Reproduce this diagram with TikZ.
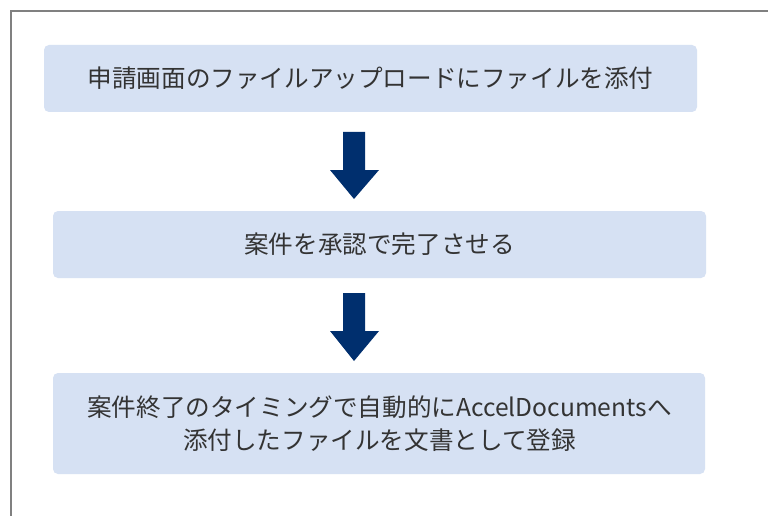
\documentclass[tikz,border=0pt]{standalone}
\usepackage{fontspec}
\newfontfamily\jp{Noto Sans CJK JP}
\definecolor{boxfill}{HTML}{D6E1F3}
\definecolor{arrowblue}{HTML}{002F6E}
\definecolor{txt}{HTML}{333333}
\definecolor{frame}{HTML}{808080}
\tikzset{
  stepbox/.style={fill=boxfill, rounded corners=5pt, draw=none},
  steptext/.style={font=\jp\fontsize{24.6}{33}\selectfont, text=txt, align=center},
  downarrow/.style={fill=arrowblue, draw=none}
}
\begin{document}
\begin{tikzpicture}[x=1pt,y=-1pt]
\useasboundingbox (0,0) rectangle (768,516);
\fill[white] (0,0) rectangle (768,516);
\draw[frame, line width=1.2pt] (11,516) -- (11,11) -- (768,11);
% boxes
\path[stepbox] (44,45) rectangle (697,112);
\path[stepbox] (53,211) rectangle (706,278);
\path[stepbox] (53,373) rectangle (705,474);
\node[steptext] (t1) at (370.5,78.5) {申請画面のファイルアップロードにファイルを添付};
\node[steptext] (t2) at (379.5,244.5) {案件を承認で完了させる};
\node[steptext] (t3) at (379.5,423.5) {案件終了のタイミングで自動的にAccelDocumentsへ\\添付したファイルを文書として登録};
% arrows
\path[downarrow] (343,132) -- (365,132) -- (365,170) -- (379,170) -- (354,199) -- (330,170) -- (343,170) -- cycle;
\path[downarrow] (343,293) -- (365,293) -- (365,331) -- (379,331) -- (354,361) -- (330,331) -- (343,331) -- cycle;
\end{tikzpicture}
\end{document}
